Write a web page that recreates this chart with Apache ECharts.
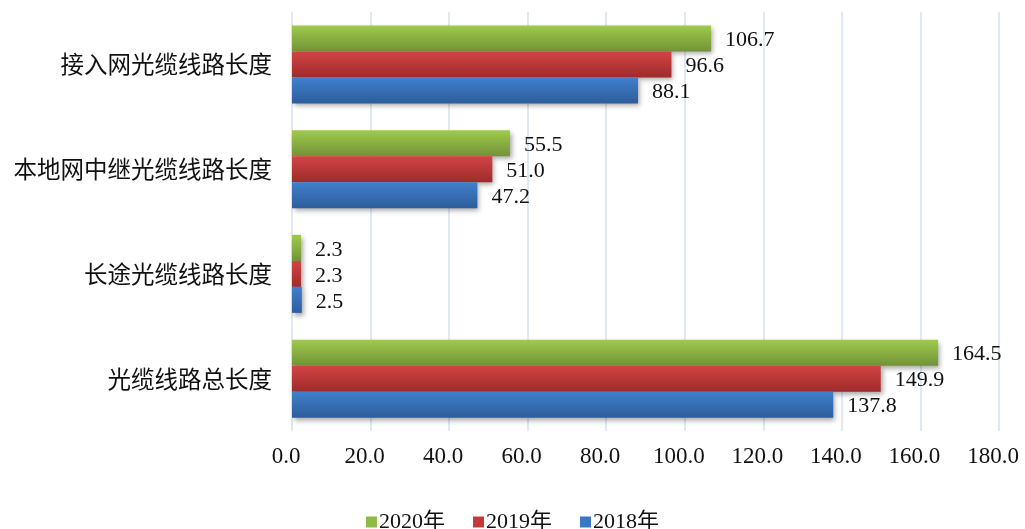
<!DOCTYPE html>
<html>
<head>
<meta charset="utf-8">
<script src="https://cdn.jsdelivr.net/npm/echarts@6/dist/echarts.min.js"></script>
<style>
html,body{margin:0;padding:0;background:#fff;}
#c{width:1025px;height:529px;}
</style>
</head>
<body>
<div id="c"></div>
<script>
var categories = ['光缆线路总长度','长途光缆线路长度','本地网中继光缆线路长度','接入网光缆线路长度'];
var values2020 = [164.5, 2.3, 55.5, 106.7];
var values2019 = [149.9, 2.3, 51.0, 96.6];
var values2018 = [137.8, 2.5, 47.2, 88.1];
var seriesNames = ['2020年','2019年','2018年'];
var xTicks = [0,20,40,60,80,100,120,140,160,180];

var numFont = '"Liberation Serif","Noto Sans CJK SC",serif';
var cjkFont = '"Noto Sans CJK SC",sans-serif';

function grad(top, bottom){
  return new echarts.graphic.LinearGradient(0,0,0,1,[{offset:0,color:top},{offset:1,color:bottom}]);
}
function mk(name, data, top, bottom){
  return {
    name: name, type: 'bar', data: data,
    barWidth: 26, barGap: '0%',
    itemStyle: {color: grad(top,bottom), shadowColor:'rgba(0,0,0,0.35)', shadowBlur:5, shadowOffsetX:2, shadowOffsetY:3},
    label: {show:true, position:'right', distance:14, offset:[0,2], color:'#111', fontSize:22, fontFamily:numFont,
      formatter: function(p){ return p.value.toFixed(1); }},
    emphasis:{disabled:true}
  };
}
var solid = {'2020年':'#8fba45','2019年':'#c43a3a','2018年':'#3a78c4'};
var chart = echarts.init(document.getElementById('c'));
chart.setOption({
  animation:false,
  grid:{left:292, right:26, top:12, bottom:98, containLabel:false, outerBoundsMode:'none'},
  legend:{
    data: seriesNames.map(function(n){
      return {name:n, itemStyle:{color:solid[n], shadowBlur:0, shadowOffsetX:0, shadowOffsetY:0}};
    }),
    top: 506, left:'center', icon:'rect', itemWidth:11, itemHeight:11, itemGap:28,
    textStyle:{fontSize:22, color:'#111', fontFamily:numFont, padding:[0,0,0,-3]}
  },
  xAxis:{
    type:'value', min:xTicks[0], max:xTicks[xTicks.length-1], interval:xTicks[1]-xTicks[0],
    axisLine:{show:false}, axisTick:{show:false},
    splitLine:{show:true, lineStyle:{color:'#d5e1f0', width:1.5}},
    axisLabel:{fontSize:23, color:'#111', fontFamily:numFont, margin:14, padding:[0,12,0,0],
      formatter:function(v){return v.toFixed(1);}}
  },
  yAxis:{
    type:'category', data:categories,
    axisLine:{show:false}, axisTick:{show:false},
    axisLabel:{fontSize:23.5, color:'#111', fontFamily:cjkFont, margin:20}
  },
  series: [
    mk(seriesNames[0], values2020, '#9fcb4c', '#739338'),
    mk(seriesNames[1], values2019, '#d44444', '#9e2b2b'),
    mk(seriesNames[2], values2018, '#4080cc', '#2d5d9c')
  ]
});
</script>
</body>
</html>
